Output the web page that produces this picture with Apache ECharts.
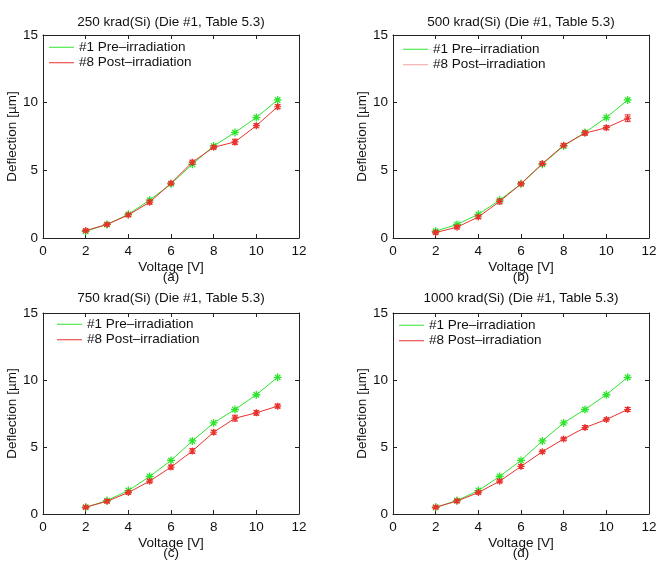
<!DOCTYPE html>
<html>
<head>
<meta charset="utf-8">
<script src="https://cdn.jsdelivr.net/npm/echarts@6/dist/echarts.min.js"></script>
<style>
html,body{margin:0;padding:0;background:#fff;}
#chart{width:660px;height:579px;}
</style>
</head>
<body>
<div id="chart"></div>
<script>
// ---- data ----
const voltage = [2, 3, 4, 5, 6, 7, 8, 9, 10, 11];
const pre = [0.5, 1.0, 1.75, 2.8, 4.0, 5.45, 6.8, 7.8, 8.9, 10.2];
const post250 = [0.55, 1.0, 1.7, 2.65, 4.05, 5.6, 6.7, 7.1, 8.3, 9.7];
const post500 = [0.4, 0.8, 1.55, 2.7, 4.0, 5.5, 6.85, 7.75, 8.15, 8.85];
const post750 = [0.5, 0.95, 1.6, 2.45, 3.5, 4.7, 6.1, 7.15, 7.55, 8.05];
const post1000 = [0.5, 0.97, 1.6, 2.45, 3.55, 4.65, 5.6, 6.45, 7.05, 7.8];
const err250 = [0.1, 0.1, 0.12, 0.15, 0.1, 0.15, 0.12, 0.2, 0.15, 0.15];
const err500 = [0.12, 0.12, 0.12, 0.18, 0.1, 0.12, 0.12, 0.15, 0.15, 0.25];
const err750 = [0.1, 0.12, 0.12, 0.12, 0.15, 0.18, 0.15, 0.22, 0.18, 0.15];
const err1000 = [0.1, 0.12, 0.12, 0.12, 0.15, 0.12, 0.12, 0.15, 0.12, 0.15];
const titles = ['250 krad(Si) (Die #1, Table 5.3)', '500 krad(Si) (Die #1, Table 5.3)',
                '750 krad(Si) (Die #1, Table 5.3)', '1000 krad(Si) (Die #1, Table 5.3)'];
const captions = ['(a)', '(b)', '(c)', '(d)'];
const seriesNames = ['#1 Pre\u2013irradiation', '#8 Post\u2013irradiation'];
const xName = 'Voltage [V]';
const yName = 'Deflection [\u00b5m]';

const posts = [post250, post500, post750, post1000];
const errs = [err250, err500, err750, err1000];

// ---- layout ----
const FONT = 'Liberation Sans, Arial, Helvetica, sans-serif';
const FS = 13.5;
const GREEN = '#2ee52e';
const RED = '#e8322e';
const AX = '#222';
const panels = [
  {left: 43, top: 35, width: 256, height: 203, legL: 49, legT: 39.5, titleY: 22},
  {left: 393, top: 35, width: 256, height: 203, legL: 403, legT: 41.5, titleY: 22},
  {left: 43, top: 313, width: 256, height: 201, legL: 57, legT: 316.5, titleY: 298},
  {left: 393, top: 313, width: 256, height: 201, legL: 399, legT: 317.5, titleY: 298}
];
const STAR = 'path://M5,0L5,10M0,5L10,5M1.6,1.6L8.4,8.4M1.6,8.4L8.4,1.6';

const grid = [], xAxis = [], yAxis = [], series = [], legend = [], graphic = [];

panels.forEach((p, i) => {
  grid.push({left: p.left, top: p.top, width: p.width, height: p.height, containLabel: false});
  const common = {
    min: 0, gridIndex: i,
    axisLine: {show: true, onZero: false, lineStyle: {color: AX, width: 1}},
    axisTick: {show: true, inside: true, length: 4, lineStyle: {color: AX}},
    splitLine: {show: false},
    axisLabel: {color: '#111', fontFamily: FONT, fontSize: FS, margin: 6}
  };
  xAxis.push(Object.assign({}, common, {
    type: 'value', max: 12, interval: 2, position: 'bottom',
    name: xName, nameLocation: 'middle', nameGap: 22,
    nameTextStyle: {color: '#111', fontFamily: FONT, fontSize: FS}
  }));
  xAxis.push(Object.assign({}, common, {
    type: 'value', max: 12, interval: 2, position: 'top',
    axisLabel: {show: false}
  }));
  yAxis.push(Object.assign({}, common, {
    type: 'value', max: 15, interval: 5, position: 'left',
    axisLabel: {color: '#111', fontFamily: FONT, fontSize: FS, margin: 5},
    name: yName, nameLocation: 'middle', nameGap: 21,
    nameTextStyle: {color: '#111', fontFamily: FONT, fontSize: FS}
  }));
  yAxis.push(Object.assign({}, common, {
    type: 'value', max: 15, interval: 5, position: 'right',
    axisLabel: {show: false}
  }));

  const xi = 2 * i, yi = 2 * i;
  series.push({
    type: 'line', name: seriesNames[0], xAxisIndex: xi, yAxisIndex: yi,
    data: voltage.map((v, k) => [v, pre[k]]),
    lineStyle: {color: GREEN, width: 1},
    itemStyle: {color: GREEN, borderColor: GREEN, borderWidth: 1.3},
    symbol: STAR, symbolSize: 8, showSymbol: true, animation: false, z: 2
  });
  series.push({
    type: 'line', name: seriesNames[1], xAxisIndex: xi, yAxisIndex: yi,
    data: voltage.map((v, k) => [v, posts[i][k]]),
    lineStyle: {color: RED, width: 1},
    itemStyle: {color: RED, borderColor: RED, borderWidth: 1.2},
    symbol: STAR, symbolSize: 7, showSymbol: true, animation: false, z: 3
  });
  series.push({
    type: 'custom', name: 'err' + i, xAxisIndex: xi, yAxisIndex: yi,
    data: voltage.map((v, k) => [v, posts[i][k], errs[i][k]]),
    animation: false, z: 4,
    renderItem: function (params, api) {
      const x = api.value(0), y = api.value(1), e = api.value(2);
      const lo = api.coord([x, y - e]);
      const hi = api.coord([x, y + e]);
      const w = 3;
      const st = {stroke: RED, lineWidth: 1};
      return {type: 'group', children: [
        {type: 'line', shape: {x1: lo[0], y1: lo[1], x2: hi[0], y2: hi[1]}, style: st},
        {type: 'line', shape: {x1: lo[0] - w, y1: lo[1], x2: lo[0] + w, y2: lo[1]}, style: st},
        {type: 'line', shape: {x1: hi[0] - w, y1: hi[1], x2: hi[0] + w, y2: hi[1]}, style: st}
      ]};
    }
  });

  legend.push({
    orient: 'vertical', left: p.legL, top: p.legT, padding: 0, itemGap: 0,
    itemWidth: 25, itemHeight: 1, icon: 'rect', selectedMode: false,
    itemStyle: {borderWidth: 0},
    textStyle: {color: '#111', fontFamily: FONT, fontSize: FS, lineHeight: 15.5},
    data: [
      {name: seriesNames[0], itemStyle: {color: GREEN, borderWidth: 0}},
      {name: seriesNames[1], itemStyle: {color: i === 1 ? '#f4a0a0' : RED, borderWidth: 0}}
    ]
  });

  graphic.push({
    type: 'text', x: p.left + p.width / 2, y: p.titleY,
    style: {text: titles[i], fill: '#111', font: FS + 'px ' + FONT, textAlign: 'center', textVerticalAlign: 'middle'}
  });
  graphic.push({
    type: 'text', x: p.left + p.width / 2, y: p.top + p.height + 39,
    style: {text: captions[i], fill: '#111', font: FS + 'px ' + FONT, textAlign: 'center', textVerticalAlign: 'middle'}
  });
});

const chart = echarts.init(document.getElementById('chart'), null, {renderer: 'canvas'});
chart.setOption({
  backgroundColor: '#fff',
  animation: false,
  grid, xAxis, yAxis, series, legend, graphic
});
</script>
</body>
</html>
